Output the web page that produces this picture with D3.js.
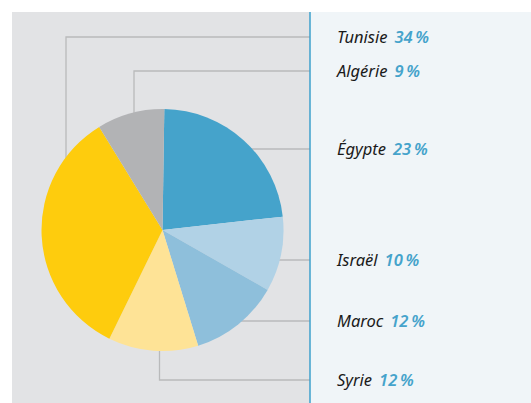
<!DOCTYPE html>
<html>
<head>
<meta charset="utf-8">
<script src="https://cdn.jsdelivr.net/npm/d3@7/dist/d3.min.js"></script>
<style>
  html, body { margin: 0; padding: 0; background: #ffffff; }
  svg { display: block; }
  .name { font-family: "Noto Sans", "Open Sans", sans-serif; font-style: italic; fill: #1a1a1a; }
  .val { font-family: "Noto Sans", "Open Sans", sans-serif; font-style: italic; font-weight: 600; fill: #45a3cb; }
</style>
</head>
<body>
<svg id="chart" width="531" height="403"></svg>
<script>
// Shares by country, in clockwise order from twelve o'clock
const countries = ["Égypte", "Israël", "Maroc", "Syrie", "Tunisie", "Algérie"];
const shares = [23, 10, 12, 12, 34, 9];
const sliceColors = ["#45a3cb", "#b1d2e6", "#8ebfdb", "#fee396", "#fecc0d", "#b2b3b5"];

// Label column order (top to bottom) and each label's row
const labelOrder = ["Tunisie", "Algérie", "Égypte", "Israël", "Maroc", "Syrie"];
const labelRows = [37, 71, 149, 260, 321, 380];

const W = 531, H = 403;
const svg = d3.select("#chart");

// Backgrounds: grey plot area, pale label column, blue divider
const divX = 310;
svg.append("rect").attr("x", 12).attr("y", 12).attr("width", divX - 12).attr("height", H - 12).attr("fill", "#e2e3e5");
svg.append("rect").attr("x", divX).attr("y", 12).attr("width", W - divX).attr("height", H - 12).attr("fill", "#f0f5f8");

const cx = 162.5, cy = 230, R = 121;
const pie = d3.pie().sort(null).value(d => d).startAngle(0.015).endAngle(2 * Math.PI + 0.015);
const arcs = pie(shares);
const arc = d3.arc().innerRadius(0).outerRadius(R);

// Leader lines run from inside each slice (hidden under the pie) to the label column
const rowOf = name => labelRows[labelOrder.indexOf(name)];
const leaders = {
  "Tunisie": [[66, 200], [66, rowOf("Tunisie")], [divX, rowOf("Tunisie")]],
  "Algérie": [[134, 150], [134, rowOf("Algérie")], [divX, rowOf("Algérie")]],
  "Égypte": [[cx + 60, rowOf("Égypte")], [divX, rowOf("Égypte")]],
  "Israël": [[cx + 60, rowOf("Israël")], [divX, rowOf("Israël")]],
  "Maroc": [[cx + 40, rowOf("Maroc")], [divX, rowOf("Maroc")]],
  "Syrie": [[159.5, 320], [159.5, rowOf("Syrie")], [divX, rowOf("Syrie")]]
};
const line = d3.line();
svg.append("g").selectAll("path").data(labelOrder).join("path")
  .attr("d", n => line(leaders[n]))
  .attr("fill", "none").attr("stroke", "#b9babb").attr("stroke-width", 1.3);

svg.append("line").attr("x1", divX).attr("x2", divX).attr("y1", 12).attr("y2", H)
  .attr("stroke", "#3ea0cc").attr("stroke-width", 1.5);

svg.append("g").attr("transform", `translate(${cx},${cy})`)
  .selectAll("path").data(arcs).join("path")
  .attr("d", arc)
  .attr("fill", (d, i) => sliceColors[i]);

// Labels
const lab = svg.append("g").selectAll("text").data(labelOrder).join("text")
  .attr("x", 337)
  .attr("y", n => rowOf(n) + 6)
  .attr("font-size", 16.5);
lab.append("tspan").attr("class", "name").text(n => n);
lab.append("tspan").attr("class", "val").attr("dx", 7)
  .text(n => shares[countries.indexOf(n)] + "\u202F%");
</script>
</body>
</html>
